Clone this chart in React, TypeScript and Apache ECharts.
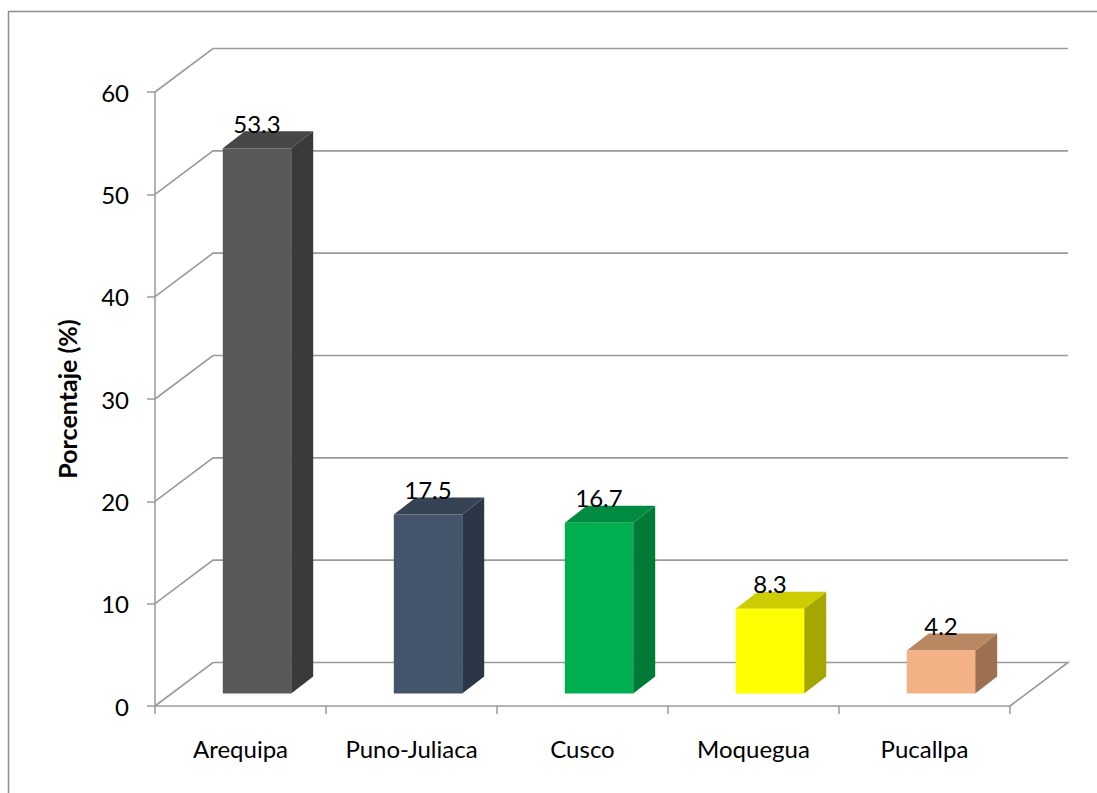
import React, { useEffect, useRef } from "react";
import * as echarts from "echarts";

// Percentage of cases by city
const categories = ["Arequipa", "Puno-Juliaca", "Cusco", "Moquegua", "Pucallpa"];
const percentages = [53.3, 17.5, 16.7, 8.3, 4.2];
const yTicks = [0, 10, 20, 30, 40, 50, 60];

// Face colours for each bar: front, top, side
const frontColors = ["#595959", "#44546a", "#00b050", "#ffff00", "#f4b183"];
const topColors = ["#474747", "#364355", "#008c40", "#cccc00", "#b98762"];
const sideColors = ["#3a3a3a", "#2b3646", "#007a37", "#a6a600", "#9c7050"];

// Oblique projection of the chart depth (pixels)
const WALL_DX = 58;
const WALL_DY = -43.5;
const BAR_SHIFT_X = 16.5;
const BAR_SHIFT_Y = -12.4;
const BAR_DX = 22;
const BAR_DY = -17;

const GRID_COLOR = "#9a9a9a";
const FONT = "Lato, 'Open Sans', sans-serif";
const LABEL_SIZE = 24;

export default function App() {
  const ref = useRef<HTMLDivElement>(null);

  useEffect(() => {
    if (!ref.current) return;
    const chart = echarts.init(ref.current, undefined, { renderer: "svg" });

    const option: any = {
      animation: false,
      backgroundColor: "#ffffff",
      textStyle: { fontFamily: FONT },
      graphic: [
        {
          type: "rect",
          shape: { x: 8.5, y: 11.5, width: 1200, height: 900 },
          style: { fill: "none", stroke: "#8e8e8e", lineWidth: 1.5 },
          silent: true,
        },
      ],
      grid: { left: 155, right: 87, top: 92, bottom: 87 },
      xAxis: {
        type: "category",
        data: categories,
        axisLine: { show: true, lineStyle: { color: GRID_COLOR, width: 1.5 } },
        axisTick: { show: true, interval: 0, length: 8, lineStyle: { color: GRID_COLOR, width: 1.5 } },
        axisLabel: { interval: 0, margin: 30, color: "#000", fontSize: LABEL_SIZE, fontFamily: FONT },
        splitLine: { show: false },
      },
      yAxis: {
        type: "value",
        min: 0,
        max: 60,
        interval: 10,
        name: "Porcentaje (%)",
        nameLocation: "middle",
        nameRotate: 90,
        nameGap: 76,
        nameTextStyle: { color: "#000", fontSize: 25, fontWeight: "bold", fontFamily: FONT },
        axisLine: { show: true, lineStyle: { color: GRID_COLOR, width: 1.5 } },
        axisTick: { show: true, length: 8, lineStyle: { color: GRID_COLOR, width: 1.5 } },
        axisLabel: { margin: 26, color: "#000", fontSize: LABEL_SIZE, fontFamily: FONT },
        splitLine: { show: false },
      },
      series: [
        {
          // side wall diagonals, back wall gridlines and floor outline
          type: "custom",
          coordinateSystem: "cartesian2d",
          silent: true,
          z: 1,
          data: yTicks.map((v) => [0, v]),
          renderItem: (params: any, api: any) => {
            const v = api.value(1);
            const p = api.coord([0, v]);
            const cs = params.coordSys;
            const left = cs.x;
            const right = cs.x + cs.width;
            const y = p[1];
            const pts: number[][] = [
              [left, y],
              [left + WALL_DX, y + WALL_DY],
              [right + WALL_DX, y + WALL_DY],
            ];
            if (v === 0) pts.push([right, y]);
            return {
              type: "polyline",
              shape: { points: pts },
              style: { stroke: GRID_COLOR, lineWidth: 1.6, fill: "none" },
            };
          },
        },
        {
          type: "custom",
          coordinateSystem: "cartesian2d",
          z: 3,
          data: percentages.map((v, i) => [i, v]),
          renderItem: (params: any, api: any) => {
            const i = api.value(0);
            const v = api.value(1);
            const top = api.coord([i, v]);
            const base = api.coord([i, 0]);
            const band = api.size([1, 0])[0];
            const w = band * 0.4;
            const x0 = top[0] - w / 2 + BAR_SHIFT_X;
            const x1 = x0 + w;
            const yt = top[1] + BAR_SHIFT_Y;
            const yb = base[1] + BAR_SHIFT_Y;
            return {
              type: "group",
              children: [
                {
                  type: "polygon",
                  shape: {
                    points: [
                      [x1, yt],
                      [x1 + BAR_DX, yt + BAR_DY],
                      [x1 + BAR_DX, yb + BAR_DY],
                      [x1, yb],
                    ],
                  },
                  style: { fill: sideColors[i] },
                },
                {
                  type: "polygon",
                  shape: {
                    points: [
                      [x0, yt],
                      [x1, yt],
                      [x1 + BAR_DX, yt + BAR_DY],
                      [x0 + BAR_DX, yt + BAR_DY],
                    ],
                  },
                  style: { fill: topColors[i] },
                },
                {
                  type: "rect",
                  shape: { x: x0, y: yt, width: w, height: yb - yt },
                  style: { fill: frontColors[i] },
                },
                {
                  type: "text",
                  x: x0 + w / 2,
                  y: yt - 25,
                  style: {
                    text: v.toFixed(1),
                    fill: "#000",
                    fontSize: LABEL_SIZE,
                    fontFamily: FONT,
                    align: "center",
                    verticalAlign: "middle",
                  },
                },
              ],
            };
          },
        },
      ],
    };

    chart.setOption(option);
    return () => chart.dispose();
  }, []);

  return (
    <div
      ref={ref}
      style={{ position: "fixed", left: 0, top: 0, width: 1097, height: 793 }}
    />
  );
}
